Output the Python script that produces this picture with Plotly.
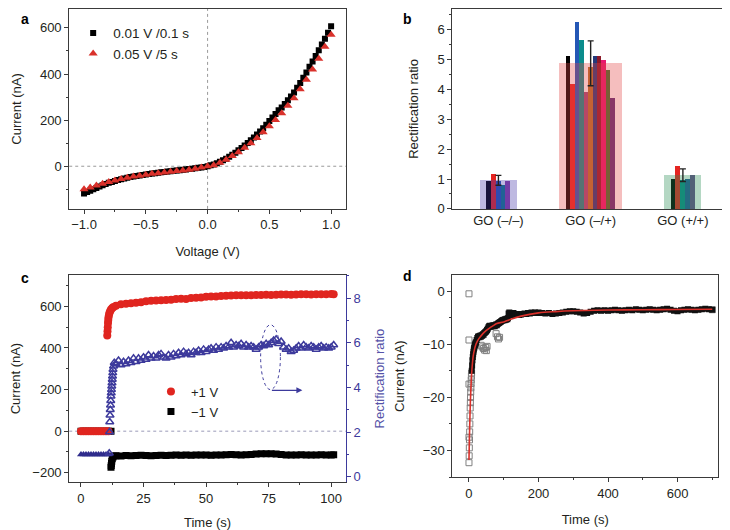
import plotly.graph_objects as go

# ---------------- panel a : I-V curves ----------------
a_v_fine = [-1.0, -0.975, -0.95, -0.925, -0.9, -0.875, -0.85, -0.825, -0.8, -0.775,
            -0.75, -0.725, -0.7, -0.675, -0.65, -0.625, -0.6, -0.575, -0.55, -0.525,
            -0.5, -0.475, -0.45, -0.425, -0.4, -0.375, -0.35, -0.325, -0.3, -0.275,
            -0.25, -0.225, -0.2, -0.175, -0.15, -0.125, -0.1, -0.075, -0.05, -0.025,
            0.0, 0.025, 0.05, 0.075, 0.1, 0.125, 0.15, 0.175, 0.2, 0.225,
            0.25, 0.275, 0.3, 0.325, 0.35, 0.375, 0.4, 0.425, 0.45, 0.475,
            0.5, 0.525, 0.55, 0.575, 0.6, 0.625, 0.65, 0.675, 0.7, 0.725,
            0.75, 0.775, 0.8, 0.825, 0.85, 0.875, 0.9, 0.925, 0.95, 0.975, 1.0]
a_i_fine = [-118, -112, -106, -100, -94, -88, -82, -77, -72, -68,
            -64, -60, -56, -53, -50, -47, -44, -42, -40, -38,
            -36, -34, -32, -30, -28, -26, -24.5, -23, -21.5, -20,
            -18.5, -17, -15.5, -14, -12.5, -11, -9, -7, -5, -3,
            0, 4, 8, 13, 19, 26, 33, 41, 50, 59,
            69, 79, 90, 101, 113, 125, 138, 151, 165, 180,
            196, 211, 227, 243, 255, 270, 286, 303, 320, 340,
            361, 384, 407, 431, 454, 478, 503, 528, 553, 579, 607]
a_v_coarse = [-1.0, -0.95, -0.9, -0.85, -0.8, -0.75, -0.7, -0.65, -0.6, -0.55,
              -0.5, -0.45, -0.4, -0.35, -0.3, -0.25, -0.2, -0.15, -0.1, -0.05,
              0.0, 0.05, 0.1, 0.15, 0.2, 0.25, 0.3, 0.35, 0.4, 0.45,
              0.5, 0.55, 0.6, 0.65, 0.7, 0.75, 0.8, 0.85, 0.9, 0.95, 1.0]
a_i_coarse = [-100, -92, -84, -76, -68, -62, -55, -50, -45, -41,
              -37, -33, -30, -27, -24, -21, -18, -15, -11, -6,
              0, 4, 15, 28, 44, 61, 80, 100, 122, 147,
              173, 201, 230, 262, 295, 334, 375, 420, 466, 518, 570]
a_names = ["0.01 V /0.1 s", "0.05 V /5 s"]

# ---------------- panel b : rectification ratios ----------------
b_categories = ["GO (\u2013/\u2013)", "GO (\u2013/+)", "GO (+/+)"]
b_mean = [0.96, 4.88, 1.13]
b_err = [0.165, 0.75, 0.21]
b_left = [0.92, 1.18, 0.95, 0.80, 0.92]
b_mid = [5.12, 4.18, 6.27, 5.67, 3.91, 4.76, 5.11, 5.13, 5.00, 4.67, 3.72]
b_right = [1.01, 1.44, 0.98, 1.00, 1.14]

# ---------------- panel c : current vs time ----------------
c_t_flat = [0, 1, 2, 3, 4, 5, 6, 7, 8, 9, 10, 11]
c_pos_flat = [0, 0, 0, 0, 0, 0, 0, 0, 0, 0, 0, 0]
c_t_neg_flat = [0, 1, 2, 3, 4, 5, 6, 7, 8, 9, 10, 11, 12]
c_neg_flat = [0, 0, 0, 0, 0, 0, 0, 0, 0, 0, 0, 0, 0]
c_t_pos_rise = [10.5, 10.6, 10.7, 10.8, 10.9, 11.0, 11.2, 11.4, 11.7, 12.0, 12.5, 13.0]
c_pos_rise = [460, 480, 500, 520, 535, 548, 560, 570, 578, 585, 592, 597]
c_t_neg_rise = [12.0, 12.1, 12.2, 12.3, 12.5, 12.8, 13.2]
c_neg_rise = [-173, -165, -155, -145, -133, -124, -119]
c_t_2s = [14, 16, 18, 20, 22, 24, 26, 28, 30, 32, 34, 36, 38, 40, 42, 44, 46, 48, 50, 52,
          54, 56, 58, 60, 62, 64, 66, 68, 70, 72, 74, 76, 78, 80, 82, 84, 86, 88, 90, 92,
          94, 96, 98, 100, 101]
c_pos_main = [603, 610, 613, 615, 617, 620, 625, 627, 628, 629, 631, 632, 636, 637, 636,
              640, 642, 643, 646, 647, 648, 650, 651, 652, 653, 654, 653, 654, 655, 655,
              656, 655, 656, 657, 657, 656, 657, 658, 658, 657, 658, 659, 659, 660, 659]
c_neg_main = [-118, -119, -117, -118, -117, -116, -117, -118, -117, -116, -117, -116, -115,
              -116, -115, -116, -115, -114, -115, -116, -115, -114, -113, -112, -113, -114,
              -113, -112, -110, -109, -108, -108, -110, -112, -114, -115, -114, -113, -114,
              -115, -114, -113, -114, -114, -113]
c_ratio_flat = [1.0, 1.0, 1.0, 1.0, 1.0, 1.0, 1.0, 1.0, 1.0, 1.0, 1.0, 1.0]
c_t_ratio = [11.3, 11.4, 11.5, 11.6, 11.7, 11.8, 11.9, 12.0, 12.1, 12.2, 12.3, 12.4, 12.5,
             12.6, 12.7, 12.8, 13.0, 13.3,
             14, 15, 16, 17, 18, 19, 20, 21, 22, 23, 24, 25, 26, 27, 28, 29, 30, 31, 32, 33,
             34, 35, 36, 37, 38, 39, 40, 41, 42, 43, 44, 45, 46, 47, 48, 49, 50, 51, 52, 53,
             54, 55, 56, 57, 58, 59, 60, 61, 62, 63, 64, 65, 66, 67, 68, 69, 70, 71, 72, 73,
             74, 75, 76, 77, 78, 79, 80, 81, 82, 83, 84, 85, 86, 87, 88, 89, 90, 91, 92, 93,
             94, 95, 96, 97, 98, 99, 100, 101]
c_ratio = [1.05, 2.0, 2.45, 2.75, 3.0, 3.2, 3.4, 3.6, 3.75, 3.9, 4.05, 4.2, 4.35,
           4.5, 4.65, 4.8, 4.95, 5.1,
           5.05, 5.2, 5.0, 5.15, 5.05, 5.2, 5.1, 5.3, 5.15, 5.3, 5.2, 5.35, 5.25, 5.45, 5.3,
           5.4, 5.3, 5.45, 5.5, 5.35, 5.3, 5.45, 5.35, 5.5, 5.4, 5.55, 5.45, 5.6, 5.5, 5.55,
           5.45, 5.6, 5.55, 5.65, 5.55, 5.7, 5.6, 5.7, 5.75, 5.65, 5.8, 5.7, 5.8, 5.75, 5.85,
           5.8, 6.0, 5.8, 5.9, 5.85, 5.95, 5.8, 5.9, 5.8, 5.85, 5.8, 5.7, 5.8, 5.9, 5.85,
           5.95, 5.9, 6.0, 6.1, 6.15, 5.95, 6.05, 5.8, 5.7, 5.75, 5.6, 5.65, 5.75, 5.85, 5.75,
           5.9, 5.8, 5.75, 5.85, 5.8, 5.7, 5.8, 5.85, 5.75, 5.8, 5.75, 5.8, 5.9]
c_names = ["+1 V", "\u22121 V"]

# ---------------- panel d : long-time current ----------------
d_t_band = [8, 9, 10, 11, 12, 13, 14, 15, 16, 17, 18, 19, 20,
            22, 24, 26, 28, 30, 32, 34, 36, 38, 40, 42, 44, 46, 48, 50, 52, 54, 56, 58, 60,
            62, 64, 66, 68, 70, 72, 74, 76, 78, 80, 82, 84, 86, 88, 90, 92, 94, 96, 98, 100,
            102, 104, 106, 108, 110, 112, 114, 116, 118, 120, 122, 124, 126, 128, 130,
            135, 140, 145, 150, 155, 160, 165, 170, 175, 180, 185, 190, 195, 200,
            210, 220, 230, 240, 250, 260, 270, 280, 290, 300,
            310, 320, 330, 340, 350, 360, 370, 380, 390, 400,
            410, 420, 430, 440, 450, 460, 470, 480, 490, 500,
            510, 520, 530, 540, 550, 560, 570, 580, 590, 600,
            610, 620, 630, 640, 650, 660, 670, 680, 690, 700]
d_i_band = [-15, -14, -13, -12.4, -11.9, -11.4, -11.0, -10.7, -10.4, -10.2, -10.0, -9.8, -9.6,
            -9.2, -8.8, -8.6, -8.5, -8.7, -8.4, -8.6, -8.3, -8.4, -8.1, -8.2, -7.9, -7.8, -7.7,
            -7.5, -7.3, -7.1, -6.8, -6.6, -6.5, -6.7, -6.6, -6.5, -6.6, -6.4, -6.5, -6.6, -6.4,
            -6.3, -6.4, -6.2, -6.1, -6.0, -5.9, -5.8, -5.7, -5.6, -5.5, -5.5, -5.4, -5.5, -5.3,
            -5.4, -5.2, -5.3, -5.1, -4.2, -4.0, -4.3, -4.1, -4.4, -4.2, -4.5, -4.1, -4.3,
            -4.4, -4.3, -4.5, -4.4, -4.3, -4.2, -4.3, -4.1, -4.2, -4.0, -4.1, -4.0, -4.1, -4.0,
            -4.1, -4.2, -4.1, -4.3, -4.2, -4.1, -4.0, -3.9, -3.8, -3.8,
            -3.9, -4.0, -4.2, -4.1, -3.9, -3.7, -3.6, -3.7, -3.6, -3.7,
            -3.6, -3.5, -3.6, -3.7, -3.6, -3.5, -3.6, -3.4, -3.5, -3.6,
            -3.5, -3.4, -3.5, -3.6, -3.5, -3.4, -3.3, -3.5, -3.7, -3.8,
            -3.6, -3.5, -3.4, -3.5, -3.6, -3.5, -3.4, -3.3, -3.4, -3.5]
d_t_open = [0, 0, 0, 0, 0, 0.5, 1, 1.5, 2, 2.5, 3, 3.5, 4, 4.5, 5, 5.5, 6, 6.5, 7, 7.5,
            35, 38, 42, 45, 48, 50, 52, 78, 82, 85, 88, 700]
d_i_open = [-0.5, -9.2, -17.5, -27.5, -32.3, -31, -29.5, -28, -26.5, -25, -23.5, -22, -21,
            -20, -19, -18.2, -17.4, -16.7, -16, -15.4,
            -10.2, -10.5, -10.8, -11.1, -10.6, -11.2, -10.4, -8.0, -8.6, -9.0, -8.7, -3.5]
d_t_fit = [0, 1, 2, 3, 4, 5, 6, 7, 8, 10, 12, 15, 20, 25, 30, 40, 50, 60, 70, 80, 100,
           120, 150, 200, 250, 300, 400, 500, 600, 700]
d_i_fit = [-31.8, -28.5, -25.5, -23.0, -21.0, -19.2, -17.6, -16.3, -15.2, -13.5, -12.3,
           -11.2, -10.0, -9.3, -8.8, -8.0, -7.4, -6.9, -6.5, -6.1, -5.8, -5.3, -4.7, -4.1,
           -3.85, -3.7, -3.55, -3.5, -3.45, -3.4]

# ---------------- styling / layout constants ----------------
# the page body has an 8 px margin, so the figure is drawn 8 px in from the window corner
OFF = 8
FW, FH = 730 - OFF, 530 - OFF
FONT = "Liberation Sans, Arial, Helvetica, sans-serif"
TXT = "#231f20"
AX = "#3a3a3a"
BLUE = "#3d3a9c"
BLUE_T = "#5653a8"


def dx(p0, p1):
    return [(p0 - OFF) / FW, (p1 - OFF) / FW]


def dy(p0, p1):
    return [1 - (p1 - OFF) / FH, 1 - (p0 - OFF) / FH]


def px(p):
    return (p - OFF) / FW


def py(p):
    return 1 - (p - OFF) / FH


def ax_style(**kw):
    d = dict(showline=True, linecolor=AX, linewidth=1, mirror=True, ticks="outside",
             ticklen=4, tickwidth=1, tickcolor=AX, showgrid=False, zeroline=False,
             tickfont=dict(size=13, color=TXT), title_font=dict(size=13, color=TXT))
    d.update(kw)
    return d


fig = go.Figure()

# panel a
fig.add_trace(go.Scatter(x=a_v_fine, y=a_i_fine, mode="markers", name=a_names[0],
                         marker=dict(symbol="square", size=6, color="#000000"),
                         xaxis="x", yaxis="y", legend="legend"))
fig.add_trace(go.Scatter(x=a_v_coarse, y=a_i_coarse, mode="markers", name=a_names[1],
                         marker=dict(symbol="triangle-up", size=8, color="#d9312b"),
                         xaxis="x", yaxis="y", legend="legend"))

# panel b
centers = [1, 2, 3]
groups = [
    (b_left, ["#000000", "#e52521", "#2457b5", "#0b7a8a", "#8a3fa6"], 0.052),
    (b_mid, ["#000000", "#e52521", "#2457b5", "#0b8c8c", "#a04a78", "#b5722a",
             "#263a7a", "#8c1a2a", "#e8186e", "#3f6e2e", "#5a2d78"], 0.048),
    (b_right, ["#000000", "#e52521", "#0b8c8c", "#245a9a", "#6a4a8a"], 0.052),
]
for c, (vals, cols, step) in zip(centers, groups):
    n = len(vals)
    xs = [c + (k - (n - 1) / 2) * step for k in range(n)]
    fig.add_trace(go.Bar(x=xs, y=vals, width=step, marker=dict(color=cols, line=dict(width=0)),
                         xaxis="x2", yaxis="y2", showlegend=False))
fig.add_trace(go.Bar(x=centers, y=b_mean, width=[0.40, 0.68, 0.40],
                     marker=dict(color=["rgba(69,55,169,0.35)", "rgba(225,70,70,0.35)",
                                        "rgba(41,141,84,0.35)"], line=dict(width=0)),
                     xaxis="x2", yaxis="y2", showlegend=False))
fig.add_trace(go.Scatter(x=centers, y=b_mean, mode="markers",
                         marker=dict(size=1, color="rgba(0,0,0,0)"),
                         error_y=dict(type="data", array=b_err, visible=True, color="#222222",
                                      thickness=1.4, width=3),
                         xaxis="x2", yaxis="y2", showlegend=False))

# panel c
fig.add_trace(go.Scatter(x=c_t_flat, y=c_ratio_flat, mode="markers",
                         marker=dict(symbol="triangle-up", size=7, color="#2f2c8c"),
                         xaxis="x3", yaxis="y5", showlegend=False))
fig.add_trace(go.Scatter(x=c_t_ratio, y=c_ratio, mode="markers",
                         marker=dict(symbol="triangle-up-open", size=7, color=BLUE,
                                     line=dict(width=1.5)),
                         xaxis="x3", yaxis="y5", showlegend=False))
fig.add_trace(go.Scatter(x=c_t_neg_flat + c_t_neg_rise + c_t_2s,
                         y=c_neg_flat + c_neg_rise + c_neg_main, mode="markers",
                         name=c_names[1], legendrank=2,
                         marker=dict(symbol="square", size=7, color="#000000"),
                         xaxis="x3", yaxis="y3", legend="legend2"))
fig.add_trace(go.Scatter(x=c_t_flat + c_t_pos_rise + c_t_2s,
                         y=c_pos_flat + c_pos_rise + c_pos_main, mode="markers",
                         name=c_names[0], legendrank=1,
                         marker=dict(symbol="circle", size=8, color="#e0251f"),
                         xaxis="x3", yaxis="y3", legend="legend2"))

# panel d
fig.add_trace(go.Scatter(x=d_t_open, y=d_i_open, mode="markers",
                         marker=dict(symbol="square-open", size=6, color="#808080",
                                     line=dict(width=1)),
                         xaxis="x4", yaxis="y4", showlegend=False))
fig.add_trace(go.Scatter(x=d_t_band, y=d_i_band, mode="markers",
                         marker=dict(symbol="square", size=6, color="#111111"),
                         xaxis="x4", yaxis="y4", showlegend=False))
fig.add_trace(go.Scatter(x=d_t_fit, y=d_i_fit, mode="lines",
                         line=dict(color="#d9302a", width=1.6, shape="spline"),
                         xaxis="x4", yaxis="y4", showlegend=False))

fig.update_layout(
    width=FW, height=FH, margin=dict(l=0, r=0, t=0, b=0),
    paper_bgcolor="white", plot_bgcolor="white",
    font=dict(family=FONT, size=13, color=TXT),
    barmode="overlay", bargap=0,
    xaxis=ax_style(domain=dx(59, 340), anchor="y", range=[-1.12, 1.12], dtick=0.5, tick0=0,
                   tickformat=".1f", title=dict(text="Voltage (V)"),
                   minor=dict(ticks="outside", ticklen=2, tickcolor=AX, dtick=0.25)),
    yaxis=ax_style(domain=dy(8, 213), anchor="x", range=[-185, 682], dtick=200,
                   title=dict(text="Current (nA)"),
                   minor=dict(ticks="outside", ticklen=2, tickcolor=AX, dtick=100)),
    xaxis2=ax_style(domain=dx(448, 729), anchor="y2", range=[0.5, 3.5], ticks="",
                    tickvals=centers, ticktext=b_categories),
    yaxis2=ax_style(domain=dy(8, 213), anchor="x2", range=[0, 6.70], dtick=1,
                    title=dict(text="Rectification ratio"),
                    minor=dict(ticks="outside", ticklen=2, tickcolor=AX, dtick=0.5)),
    xaxis3=ax_style(domain=dx(59, 340), anchor="y3", range=[-4.7, 105.9], dtick=25, tick0=0,
                    title=dict(text="Time (s)"),
                    minor=dict(ticks="outside", ticklen=2, tickcolor=AX, dtick=12.5)),
    yaxis3=ax_style(domain=dy(281, 493), anchor="x3", range=[-244, 750], dtick=200, mirror=False,
                    title=dict(text="Current (nA)"),
                    minor=dict(ticks="outside", ticklen=2, tickcolor=AX, dtick=100)),
    yaxis5=dict(overlaying="y3", side="right", anchor="x3", range=[-0.23, 9.02], dtick=2,
                showline=True, linecolor=BLUE, linewidth=1, ticks="outside", ticklen=4,
                tickcolor=BLUE, showgrid=False, zeroline=False,
                tickfont=dict(size=13, color=BLUE),
                title=dict(text="Rectification ratio", font=dict(size=13, color=BLUE_T)),
                minor=dict(ticks="outside", ticklen=2, tickcolor=BLUE, dtick=1)),
    xaxis4=ax_style(domain=dx(448, 718), anchor="y4", range=[-48, 717], dtick=200, tick0=0,
                    title=dict(text="Time (s)"),
                    minor=dict(ticks="outside", ticklen=2, tickcolor=AX, dtick=100)),
    yaxis4=ax_style(domain=dy(281, 488), anchor="x4", range=[-35, 3], dtick=10, tick0=0,
                    title=dict(text="Current (nA)"),
                    minor=dict(ticks="outside", ticklen=2, tickcolor=AX, dtick=5)),
    legend=dict(x=px(63), y=py(17), xanchor="left", yanchor="top",
                bgcolor="rgba(0,0,0,0)", font=dict(size=13.5, color=TXT)),
    legend2=dict(x=px(142), y=py(385), xanchor="left", yanchor="top",
                 bgcolor="rgba(0,0,0,0)", font=dict(size=13, color=TXT)),
    shapes=[
        dict(type="line", xref="x", yref="y domain", x0=0, x1=0, y0=0, y1=1,
             line=dict(color="#9a9a9a", width=1, dash="dot"), layer="below"),
        dict(type="line", xref="x domain", yref="y", x0=0, x1=1, y0=0, y1=0,
             line=dict(color="#9a9a9a", width=1, dash="dot"), layer="below"),
        dict(type="line", xref="x3 domain", yref="y3", x0=0, x1=1, y0=0, y1=0,
             line=dict(color="#9a9ab8", width=1, dash="dot"), layer="below"),
        dict(type="circle", xref="x3", yref="y5", x0=71.8, x1=79.7, y0=3.9, y1=6.8,
             line=dict(color=BLUE, width=1, dash="dot")),
    ],
    annotations=[
        dict(text="<b>a</b>", x=0.0, y=1.0, xref="paper", yref="paper", xanchor="left",
             yanchor="top", showarrow=False, font=dict(size=14, color="#000")),
        dict(text="<b>b</b>", x=px(396), y=1.0, xref="paper", yref="paper", xanchor="left",
             yanchor="top", showarrow=False, font=dict(size=14, color="#000")),
        dict(text="<b>c</b>", x=0.0, y=py(274), xref="paper", yref="paper", xanchor="left",
             yanchor="top", showarrow=False, font=dict(size=14, color="#000")),
        dict(text="<b>d</b>", x=px(396), y=py(272), xref="paper", yref="paper",
             xanchor="left", yanchor="top", showarrow=False, font=dict(size=14, color="#000")),
        dict(text="", x=88.5, y=3.87, xref="x3", yref="y5", ax=75.7, ay=3.87, axref="x3",
             ayref="y5", showarrow=True, arrowhead=2, arrowsize=1, arrowwidth=1.2,
             arrowcolor=BLUE),
    ],
)

fig.write_html("out.html")
